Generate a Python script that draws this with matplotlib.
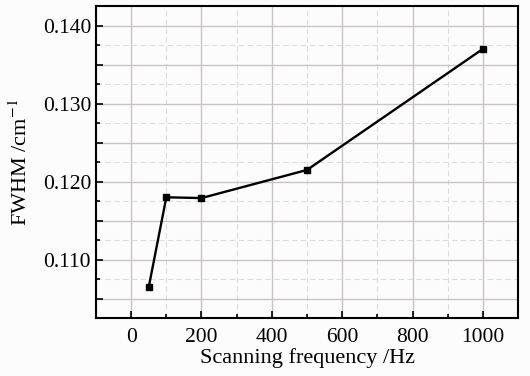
import numpy as np
import matplotlib.pyplot as plt
from matplotlib.ticker import MultipleLocator, FuncFormatter

freq = [50, 100, 200, 500, 1000]
fwhm = [0.1065, 0.1180, 0.1179, 0.1215, 0.1370]

plt.rcParams['font.family'] = ['Liberation Serif', 'DejaVu Serif']
plt.rcParams['mathtext.fontset'] = 'stix'

fig = plt.figure(figsize=(5.3, 3.76), dpi=100, facecolor='#fcfcfc')
ax = fig.add_axes([0.1811, 0.1535, 0.7963, 0.8305])
ax.set_facecolor('#fcfcfc')

ax.plot(freq, fwhm, color='black', lw=1.7, marker='s', ms=5, zorder=3)

ax.set_xlim(-100, 1100)
ax.set_ylim(0.1025, 0.1425)

ax.xaxis.set_major_locator(MultipleLocator(200))
ax.xaxis.set_minor_locator(MultipleLocator(100))
ax.yaxis.set_major_locator(MultipleLocator(0.005))
ax.yaxis.set_minor_locator(MultipleLocator(0.0025))

# label only every 0.01
def ylab(v, pos):
    if abs(round(v / 0.01) * 0.01 - v) < 1e-6:
        return "%.3f" % v
    return ""
ax.yaxis.set_major_formatter(FuncFormatter(ylab))

ax.grid(which='major', color='#c9c3c3', lw=1, ls='-')
ax.grid(which='minor', color='#dcdcdc', lw=0.8, ls=(0, (5, 3)))
ax.set_axisbelow(True)

ax.tick_params(which='both', direction='in', labelsize=15.5, width=1.2)
ax.tick_params(which='major', length=5)
ax.tick_params(which='minor', length=3)
ax.tick_params(axis='x', pad=7)
for s in ax.spines.values():
    s.set_linewidth(1.5)

ax.set_xlabel('Scanning frequency /Hz', fontsize=16, labelpad=1)
ax.set_ylabel('FWHM /cm$^{-1}$', fontsize=16, labelpad=8)

fig.savefig('out.png', dpi=100, facecolor=fig.get_facecolor())
